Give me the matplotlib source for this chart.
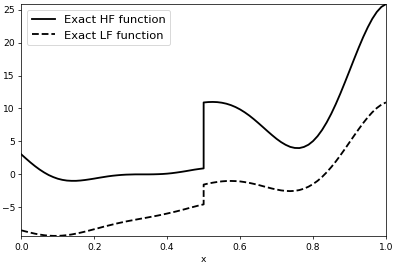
import numpy as np
import matplotlib
matplotlib.use("Agg")
import matplotlib.pyplot as plt

# --- Data (x = 0..1, jump at x = 0.5) ---
x_left = [0.0, 0.0125, 0.025, 0.0375, 0.05, 0.0625, 0.075, 0.0875, 0.1, 0.1125,
          0.125, 0.1375, 0.15, 0.1625, 0.175, 0.1875, 0.2, 0.2125, 0.225, 0.2375,
          0.25, 0.2625, 0.275, 0.2875, 0.3, 0.3125, 0.325, 0.3375, 0.35, 0.3625,
          0.375, 0.3875, 0.4, 0.4125, 0.425, 0.4375, 0.45, 0.4625, 0.475, 0.4875, 0.5]
x_right = [0.5, 0.5125, 0.525, 0.5375, 0.55, 0.5625, 0.575, 0.5875, 0.6, 0.6125,
           0.625, 0.6375, 0.65, 0.6625, 0.675, 0.6875, 0.7, 0.7125, 0.725, 0.7375,
           0.75, 0.7625, 0.775, 0.7875, 0.8, 0.8125, 0.825, 0.8375, 0.85, 0.8625,
           0.875, 0.8875, 0.9, 0.9125, 0.925, 0.9375, 0.95, 0.9625, 0.975, 0.9875, 1.0]

hf_left = [3.03, 2.41, 1.81, 1.25, 0.74, 0.29, -0.10, -0.41, -0.66, -0.83,
           -0.94, -0.98, -0.98, -0.93, -0.85, -0.75, -0.64, -0.52, -0.41, -0.30,
           -0.21, -0.14, -0.08, -0.04, -0.02, 0.00, 0.00, 0.00, 0.00, 0.01,
           0.03, 0.06, 0.11, 0.18, 0.27, 0.37, 0.48, 0.60, 0.72, 0.82, 0.91]
hf_right = [10.91, 10.97, 10.99, 10.96, 10.87, 10.72, 10.50, 10.21, 9.85, 9.42,
            8.93, 8.38, 7.79, 7.18, 6.56, 5.96, 5.39, 4.89, 4.48, 4.17,
            4.01, 3.99, 4.16, 4.50, 5.05, 5.80, 6.75, 7.89, 9.20, 10.67,
            12.27, 13.97, 15.71, 17.47, 19.19, 20.82, 22.30, 23.60, 24.65, 25.41, 25.83]

lf_left = [-8.49, -8.67, -8.84, -9.00, -9.13, -9.23, -9.30, -9.33, -9.33, -9.29,
           -9.22, -9.12, -8.99, -8.84, -8.68, -8.50, -8.32, -8.14, -7.95, -7.78,
           -7.61, -7.44, -7.29, -7.14, -7.01, -6.88, -6.75, -6.63, -6.50, -6.37,
           -6.24, -6.09, -5.94, -5.78, -5.62, -5.44, -5.26, -5.07, -4.89, -4.71, -4.55]
lf_right = [-1.55, -1.39, -1.26, -1.15, -1.06, -1.01, -1.00, -1.02, -1.07, -1.17,
            -1.29, -1.44, -1.60, -1.79, -1.97, -2.15, -2.30, -2.43, -2.51, -2.54,
            -2.50, -2.38, -2.17, -1.87, -1.47, -0.98, -0.38, 0.32, 1.10, 1.96,
            2.89, 3.86, 4.86, 5.86, 6.84, 7.78, 8.65, 9.42, 10.07, 10.58, 10.92]


def main():
    x = np.array(x_left + x_right)
    hf = np.array(hf_left + hf_right)
    lf = np.array(lf_left + lf_right)

    fig = plt.figure(figsize=(6.0, 4.0), dpi=65.84)
    ax = fig.add_axes([0.054, 0.103, 0.923, 0.880])

    ax.plot(x, hf, color="black", lw=2, label="Exact HF function")
    ax.plot(x, lf, color="black", lw=2, ls="--", label="Exact LF function")

    ax.set_xlim(0, 1)
    ax.set_ylim(min(lf.min(), hf.min()), max(lf.max(), hf.max()))
    ax.set_xlabel("x")
    ax.legend(loc="upper left", fontsize=12.6)

    fig.savefig("out.png", dpi=65.84)


if __name__ == "__main__":
    main()
